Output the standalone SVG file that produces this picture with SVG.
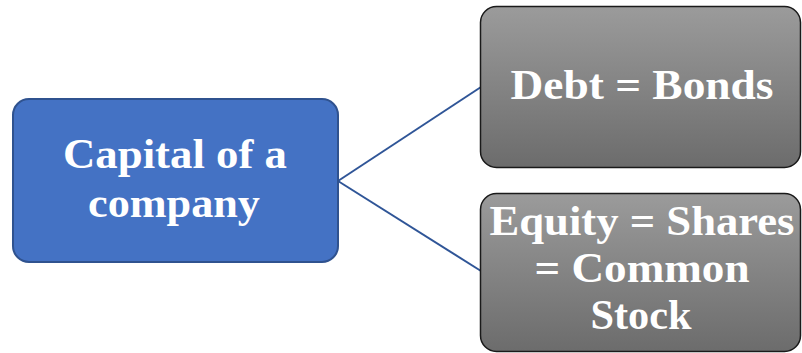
<svg xmlns="http://www.w3.org/2000/svg" width="802" height="353" viewBox="0 0 802 353">
<defs>
<linearGradient id="g" x1="0" y1="0" x2="0" y2="1">
<stop offset="0" stop-color="#9b9b9b"/>
<stop offset="1" stop-color="#6c6c6c"/>
</linearGradient>
<style>
.t{font-family:"Liberation Serif","DejaVu Serif",serif;font-weight:bold;fill:#fff;text-anchor:middle;font-size:42px}
.gb{fill:url(#g);stroke:#1a1a1a;stroke-width:1.5}
.c{stroke:#2F5597;stroke-width:2;fill:none}
</style>
</defs>
<rect width="802" height="353" fill="#fff"/>
<g id="connectors">
<line class="c" x1="338" y1="181" x2="481" y2="87"/>
<line class="c" x1="338" y1="181" x2="481" y2="271"/>
</g>
<g id="capital">
<rect x="13" y="99" width="325" height="163" rx="16" fill="#4472C4" stroke="#2F528F" stroke-width="2"/>
<text class="t" x="175" y="168" textLength="224" lengthAdjust="spacingAndGlyphs">Capital of a</text>
<text class="t" x="174" y="217" textLength="172" lengthAdjust="spacingAndGlyphs">company</text>
</g>
<g id="debt">
<rect class="gb" x="480.5" y="6.5" width="320" height="161" rx="16"/>
<text class="t" x="642" y="99" textLength="263" lengthAdjust="spacingAndGlyphs">Debt = Bonds</text>
</g>
<g id="equity">
<rect class="gb" x="480.5" y="193.5" width="320" height="158" rx="16"/>
<text class="t" x="642" y="235" textLength="305" lengthAdjust="spacingAndGlyphs">Equity = Shares</text>
<text class="t" x="642" y="282" textLength="215" lengthAdjust="spacingAndGlyphs">= Common</text>
<text class="t" x="641" y="329" textLength="101" lengthAdjust="spacingAndGlyphs">Stock</text>
</g>
</svg>
